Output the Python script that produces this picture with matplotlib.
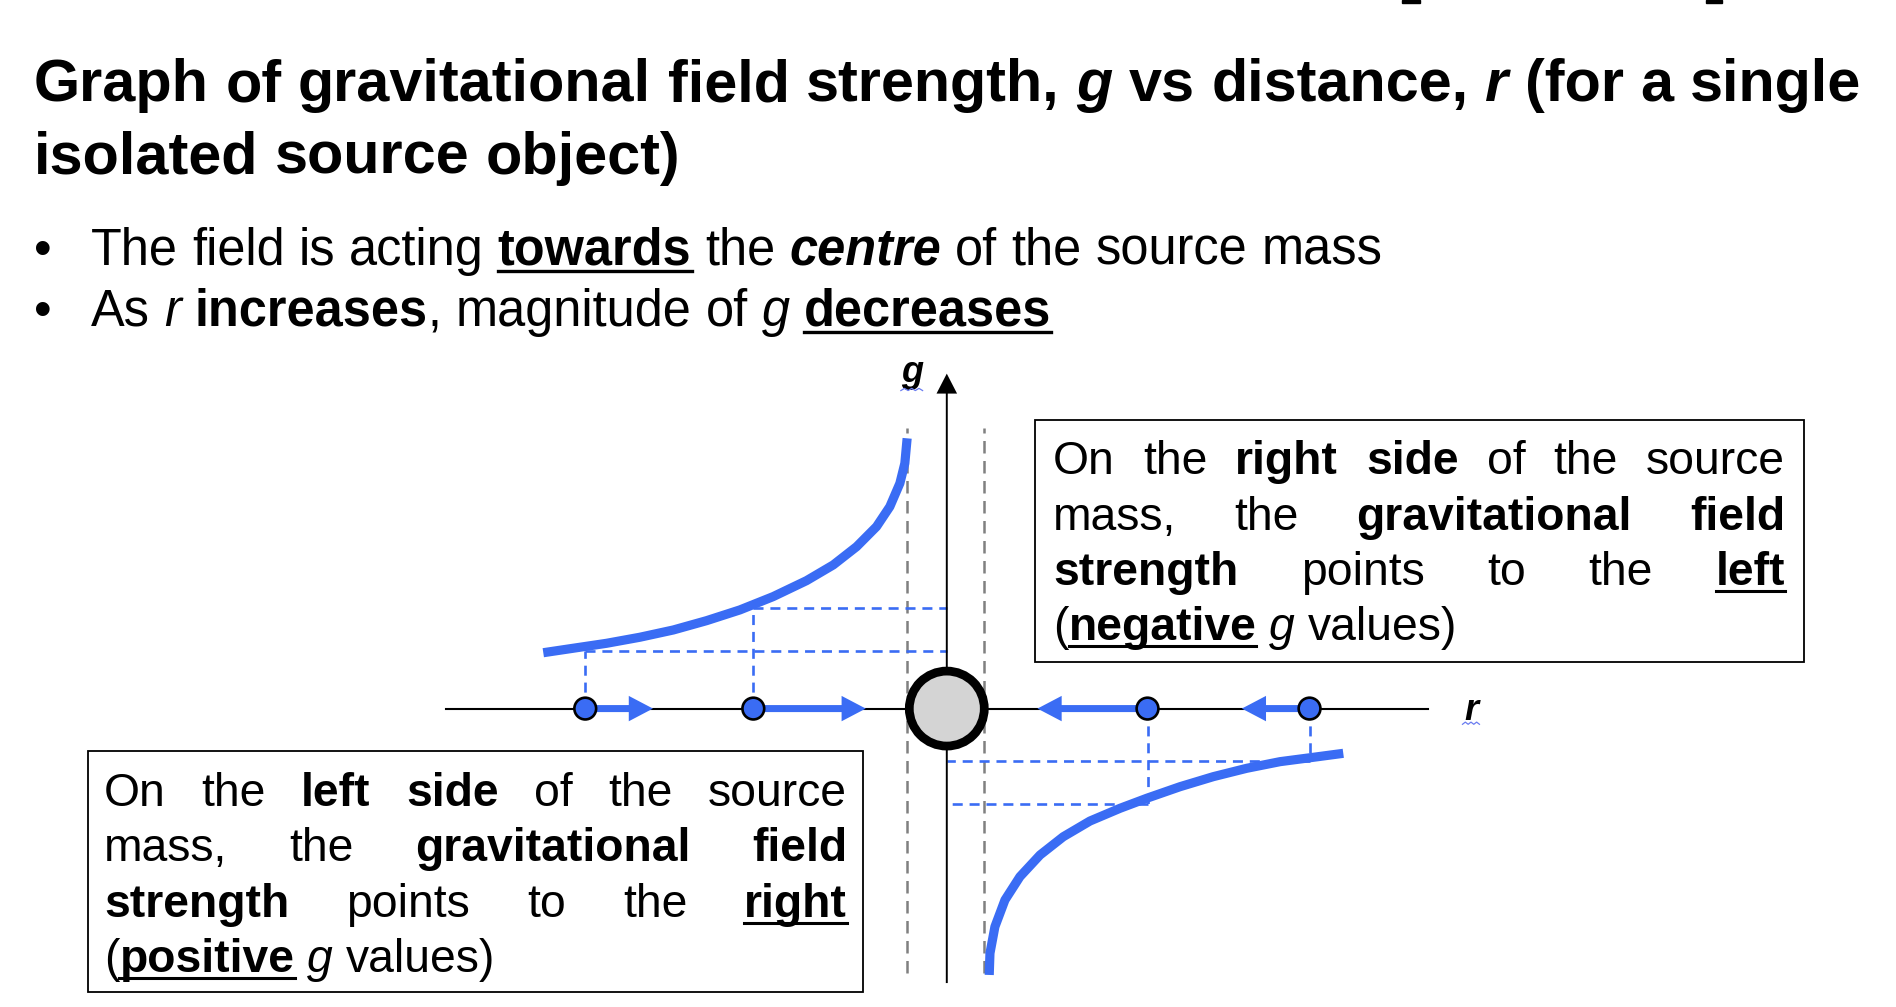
import matplotlib
matplotlib.use("Agg")
import matplotlib.pyplot as plt
from matplotlib.patches import Circle, Rectangle, FancyArrow
from matplotlib.lines import Line2D
import numpy as np

W, H, DPI = 1896, 1007, 100
FONT = ["Liberation Sans", "DejaVu Sans"]
BLUE = "#3a6cf4"
GREY = "#808080"

# ---- data ------------------------------------------------------------------
# g(r) to the left of the source mass (field points right: positive g)
left_r = [-3.337, -3.089, -2.813, -2.538, -2.262, -1.987, -1.711, -1.436,
          -1.160, -0.939, -0.746, -0.581, -0.471, -0.388, -0.347, -0.328]
left_g = [0.462, 0.499, 0.540, 0.590, 0.650, 0.727, 0.816, 0.926,
          1.058, 1.188, 1.339, 1.505, 1.670, 1.863, 2.028, 2.235]
# g(r) to the right of the source mass (field points left: negative g)
right_r = [0.351, 0.357, 0.398, 0.481, 0.605, 0.771, 0.963, 1.184,
           1.432, 1.653, 1.929, 2.204, 2.480, 2.756, 3.031, 3.279]
right_g = [-2.203, -2.024, -1.804, -1.583, -1.390, -1.211, -1.060, -0.930,
           -0.825, -0.742, -0.646, -0.563, -0.494, -0.439, -0.403, -0.370]
# test masses on the r axis, their g readings and field arrows
test_r = [-2.99, -1.60, 1.66, 3.00]
test_g = [0.48, 0.83, -0.79, -0.43]
field_arrow = [0.56, 0.93, -0.91, -0.56]
source_radius = 0.31
surface_r = [-0.33, 0.31]

title_lines = [
    [("Graph of gravitational field strength, ", "b"), ("g", "bi"),
     (" vs distance, ", "b"), ("r", "bi"), (" (for a single", "b")],
    [("isolated source object)", "b")],
]
bullet_lines = [
    [("The field is acting ", "r"), ("towards", "bu"), (" the ", "r"),
     ("centre", "bi"), (" of the source mass", "r")],
    [("As ", "r"), ("r", "i"), (" ", "r"), ("increases", "b"),
     (", magnitude of ", "r"), ("g", "i"), (" ", "r"), ("decreases", "bu")],
]
right_box_lines = [
    [("On the ", "r"), ("right side", "b"), (" of the source", "r")],
    [("mass, the ", "r"), ("gravitational field", "b")],
    [("strength", "b"), (" points to the ", "r"), ("left", "bu")],
    [("(", "r"), ("negative", "bu"), (" ", "r"), ("g", "i"), (" values)", "r")],
]
left_box_lines = [
    [("On the ", "r"), ("left side", "b"), (" of the source", "r")],
    [("mass, the ", "r"), ("gravitational field", "b")],
    [("strength", "b"), (" points to the ", "r"), ("right", "bu")],
    [("(", "r"), ("positive", "bu"), (" ", "r"), ("g", "i"), (" values)", "r")],
]

# ---- figure ----------------------------------------------------------------
fig = plt.figure(figsize=(W / DPI, H / DPI), dpi=DPI)
fig.patch.set_facecolor("white")
ax = fig.add_axes([0, 0, 1, 1])
ax.set_xlim(-7.830, 7.850)
ax.set_ylim(-2.468, 5.860)
ax.axis("off")
renderer = fig.canvas.get_renderer()

STYLE = {
    "r": ("normal", "normal", False),
    "b": ("bold", "normal", False),
    "i": ("normal", "italic", False),
    "bi": ("bold", "italic", False),
    "bu": ("bold", "normal", True),
}


def fx(x):
    return x / W


def fy(y):
    return 1 - y / H


def make_text(x, y, s, size, st):
    weight, style, _ = STYLE[st]
    return fig.text(fx(x), fy(y), s, fontsize=size, fontweight=weight,
                    fontstyle=style, family=FONT, ha="left", va="baseline",
                    color="black")


def width_of(s, size, st):
    t = make_text(0, 500, s, size, st)
    w = t.get_window_extent(renderer).width
    t.remove()
    return w


def to_words(runs):
    words = [[]]
    for text, st in runs:
        parts = text.split(" ")
        for k, p in enumerate(parts):
            if k:
                words.append([])
            if p:
                words[-1].append((p, st))
    return [w for w in words if w]


def space_width(size):
    return width_of("a a", size, "r") - width_of("aa", size, "r")


def natural_width(runs, size):
    words = to_words(runs)
    total = sum(width_of(p, size, st) for w in words for p, st in w)
    return total + space_width(size) * (len(words) - 1)


def fit_size(runs, target, base=30.0):
    s = base * target / natural_width(runs, base)
    return s * target / natural_width(runs, s)


def draw_line(runs, x, y, size, width=None, ul_off=6, ul_lw=2.2):
    words = to_words(runs)
    wlist = [sum(width_of(p, size, st) for p, st in w) for w in words]
    gap = space_width(size)
    if width is not None and len(words) > 1:
        gap = (width - sum(wlist)) / (len(words) - 1)
    cx = x
    for word in words:
        for p, st in word:
            make_text(cx, y, p, size, st)
            w = width_of(p, size, st)
            if STYLE[st][2]:
                fig.add_artist(Line2D([fx(cx), fx(cx + w)], [fy(y + ul_off)] * 2,
                                      lw=ul_lw, color="black",
                                      transform=fig.transFigure))
            cx += w
        cx += gap


# ---- heading and bullet points --------------------------------------------
size_title = fit_size(title_lines[0], 1828)
draw_line(title_lines[0], 34, 101, size_title)
draw_line(title_lines[1], 34, 174, size_title)

size_bullet = fit_size(bullet_lines[0], 1291)
for line, base in zip(bullet_lines, [265, 326]):
    make_text(34, base, "\u2022", size_bullet, "r")
    draw_line(line, 91, base, size_bullet, ul_off=6, ul_lw=2.4)

# remnants of the line above the heading
for x0, w0 in [(1402, 18), (1706, 16)]:
    fig.add_artist(Rectangle((fx(x0), fy(3)), w0 / W, 3 / H, color="black",
                             transform=fig.transFigure))

# ---- explanation boxes -----------------------------------------------------
size_box = fit_size(right_box_lines[3], 404)
for (bx0, by0, bx1, by1), (tx0, tx1), bases, lines in [
        ((1035, 420, 1804, 662), (1053, 1785), [474, 530, 585, 640], right_box_lines),
        ((88, 751, 863, 992), (104, 847), [806, 861, 917, 972], left_box_lines)]:
    fig.add_artist(Rectangle((fx(bx0), fy(by1)), (bx1 - bx0) / W, (by1 - by0) / H,
                             facecolor="white", edgecolor="black", lw=1.3,
                             transform=fig.transFigure, zorder=1))
    for k, (line, base) in enumerate(zip(lines, bases)):
        just = (tx1 - tx0) if k < len(lines) - 1 else None
        draw_line(line, tx0, base, size_box, width=just, ul_off=6, ul_lw=2.2)

# ---- diagram ----------------------------------------------------------------
# surface of the source mass
for sr in surface_r:
    ax.plot([sr, sr], [-2.19, 2.32], color=GREY, lw=1.8, ls=(0, (5, 3)), zorder=2)

# axes
ax.plot([-4.14, 3.98], [0, 0], color="black", lw=1.5, zorder=3)
ax.add_patch(FancyArrow(0, -2.27, 0, 5.04, width=0.016, head_width=0.17,
                        head_length=0.165, length_includes_head=True,
                        color="black", lw=0, zorder=3))
ax.text(-0.29, 2.70, "g", fontsize=26, fontweight="bold", fontstyle="italic",
        family=FONT, ha="center", va="baseline", zorder=5)
ax.text(4.335, -0.094, "r", fontsize=26, fontweight="bold", fontstyle="italic",
        family=FONT, ha="center", va="baseline", zorder=5)
# spell-check squiggles under the axis letters
for cx, cy, half in [(-0.29, 2.63, 0.09), (4.335, -0.13, 0.07)]:
    xs = np.linspace(cx - half, cx + half, 7)
    ys = cy + 0.018 * (np.arange(7) % 2)
    ax.plot(xs, ys, color="#6a7cf0", lw=0.9, zorder=5)

# projections from each test mass onto the curve and the g axis
for r0, g0 in zip(test_r, test_g):
    ax.plot([r0, r0], [0, g0], color=BLUE, lw=1.9, ls=(0, (3.8, 2.6)), zorder=2)
    ax.plot([r0, 0], [g0, g0], color=BLUE, lw=1.9, ls=(0, (3.8, 2.6)), zorder=2)

# g against r
ax.plot(left_r, left_g, color=BLUE, lw=6.6, solid_capstyle="butt",
        solid_joinstyle="round", zorder=4)
ax.plot(right_r, right_g, color=BLUE, lw=6.6, solid_capstyle="butt",
        solid_joinstyle="round", zorder=4)

# source mass
ax.add_patch(Circle((0, 0), source_radius, facecolor="#d4d4d4",
                    edgecolor="black", lw=6.3, zorder=5))

# field arrows and test masses
for r0, L in zip(test_r, field_arrow):
    ax.add_patch(FancyArrow(r0, 0, L, 0, width=0.058, head_width=0.21,
                            head_length=0.2, length_includes_head=True,
                            color=BLUE, lw=0, zorder=5))
    ax.add_patch(Circle((r0, 0), 0.09, facecolor=BLUE, edgecolor="black",
                        lw=1.9, zorder=6))

fig.savefig("out.png", dpi=DPI, facecolor="white")
